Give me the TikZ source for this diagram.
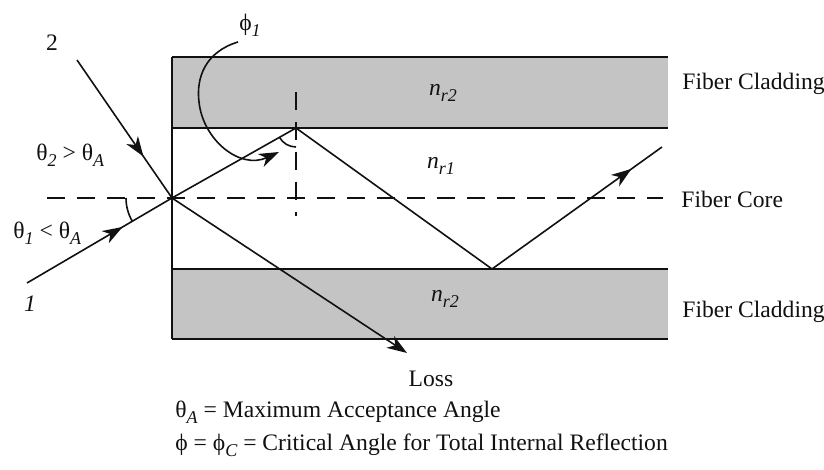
\documentclass[tikz,border=0pt]{standalone}
\usepackage{fontspec}
\setmainfont{Liberation Serif}
\usepackage{tikz}
\usetikzlibrary{arrows.meta,decorations.markings,positioning}
\definecolor{Ink}{HTML}{111111}
\definecolor{Clad}{HTML}{C4C4C4}
\newcommand\sbs[1]{\raisebox{-0.55ex}{\fontsize{9}{10}\selectfont\itshape #1}}

\begin{document}
\begin{tikzpicture}[x=0.5pt,y=0.5pt,
    wall/.style={Ink,line width=1.4pt},
    ray/.style={Ink,line width=0.8pt},
    tip/.style={-{Stealth[length=10pt,width=7pt,inset=3pt]}},
    midarrow/.style={postaction={decorate},decoration={markings,
      mark=at position #1 with {\arrow{Stealth[length=10pt,width=7pt,inset=3pt]}}}},
    axisline/.style={Ink,line width=0.9pt,dash pattern=on 9pt off 6pt},
    lab/.style={inner sep=0pt,text=Ink,font=\fontsize{11.8}{14}\selectfont}]
  \useasboundingbox (0,0) rectangle (824,470);
  % cladding layers
  \fill[Clad] (172,342) rectangle (668,413);
  \fill[Clad] (172,131) rectangle (668,201);
  \foreach \y in {413,342,201,131}
    \draw[wall] (172,\y) -- (668,\y);
  \draw[wall] (172,131) -- (172,413);
  % points of the two rays
  \coordinate (in1) at (27,187);
  \coordinate (in2) at (77,410);
  \coordinate (entry) at (172,272);
  \coordinate (hit1) at (296,342);
  \coordinate (hit2) at (492,201);
  \coordinate (out) at (662,323);
  \coordinate (loss) at (407,117);
  \coordinate (axL) at (47,272);
  \coordinate (axR) at (663,272);
  \coordinate (nTop) at (296,378);
  \coordinate (nBot) at (296,254);
  \coordinate (cStart) at (238,428);
  \coordinate (cEnd) at (279,318);
  % axis and normal
  \draw[axisline] (axL) -- (axR);
  \draw[axisline] (nTop) -- (nBot);
  % rays
  \draw[ray,midarrow=0.66] (in1) -- (entry);
  \draw[ray,midarrow=0.70] (in2) -- (entry);
  \draw[ray] (entry) -- (hit1) -- (hit2);
  \draw[ray,midarrow=0.82] (hit2) -- (out);
  \draw[ray,tip] (entry) -- (loss);
  % angles
  \draw[ray] (entry) ++(180:46) arc[start angle=180,end angle=210,radius=46];
  \draw[ray] (hit1) ++(209:19) arc[start angle=209,end angle=270,radius=19];
  \draw[ray,tip] (cStart) .. controls (205,418) and (196,392) .. (199,368)
    .. controls (203,330) and (240,300) .. (cEnd);
  % labels
  \node[lab] (two) at (52,427) {2};
  \node[lab] (one) at (30,166) {\itshape 1};
  \node[lab] (phi1) at (250,445) {ϕ\sbs{1}};
  \node[lab,anchor=west] (th2) at (36,315) {θ\sbs{2} > θ\sbs{A}};
  \node[lab,anchor=west] (th1) at (13,237) {θ\sbs{1} < θ\sbs{A}};
  \node[lab] (nTopLab) at (443,377) {\itshape n\sbs{r2}};
  \node[lab] (nCoreLab) at (441,304) {\itshape n\sbs{r1}};
  \node[lab] (nBotLab) at (445,171) {\itshape n\sbs{r2}};
  \node[lab,anchor=west] (cladTop) at (682,386) {Fiber Cladding};
  \node[lab,anchor=west] (core) at (681,271) {Fiber Core};
  \node[lab,anchor=west] (cladBot) at (682,158) {Fiber Cladding};
  \node[lab] (lossLab) at (431,91) {Loss};
  \node[lab,anchor=west] (keyA) at (175,58) {θ\sbs{A} = Maximum Acceptance Angle};
  \node[lab,anchor=west] (keyC) at (175,25) {ϕ = ϕ\sbs{C} = Critical Angle for Total Internal Reflection};
\end{tikzpicture}
\end{document}
